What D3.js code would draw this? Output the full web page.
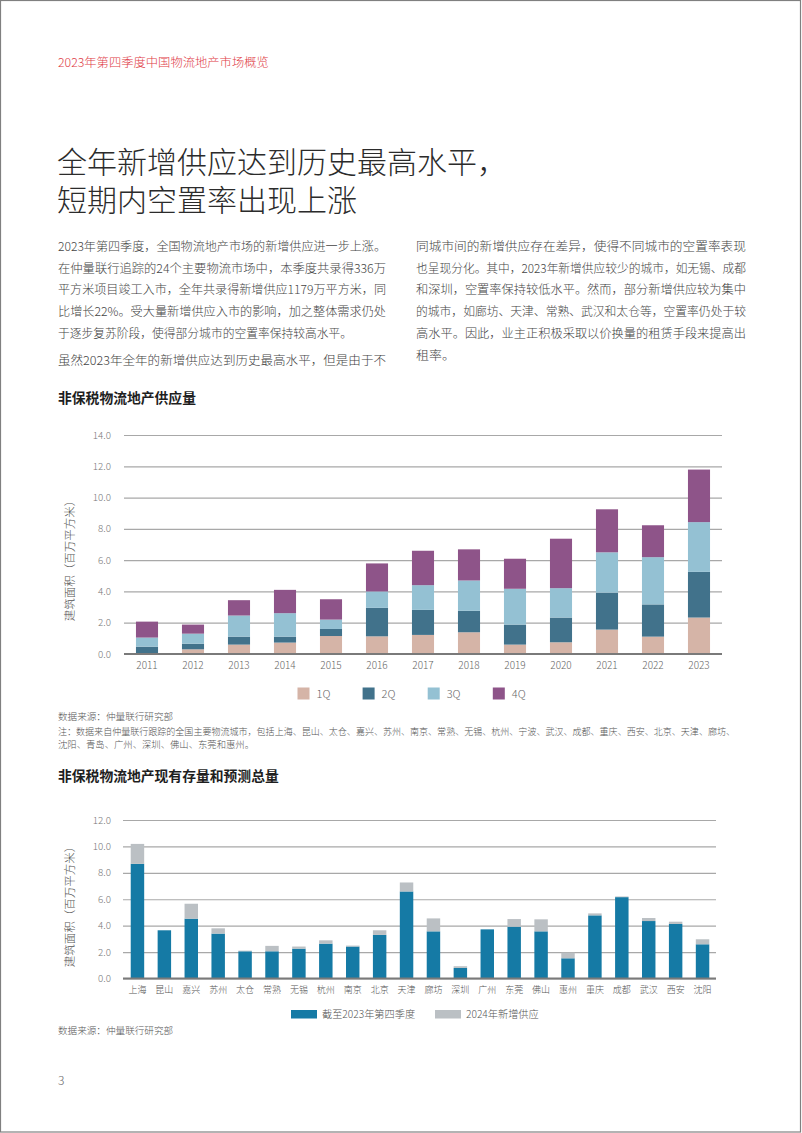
<!DOCTYPE html>
<html><head><meta charset="utf-8">
<script src="https://cdn.jsdelivr.net/npm/d3@7"></script>
<style>
html,body{margin:0;padding:0;background:#fff;}
svg{display:block;font-family:"Noto Sans CJK SC","Noto Sans",sans-serif;}
</style></head>
<body><svg id="c" width="802" height="1133"></svg>
<script>
// ---------- data ----------
const years = ["2011","2012","2013","2014","2015","2016","2017","2018","2019","2020","2021","2022","2023"];
const q1 = [0.00,0.30,0.60,0.73,1.15,1.13,1.22,1.39,0.60,0.75,1.56,1.11,2.33];
const q2 = [0.47,0.36,0.51,0.38,0.45,1.82,1.60,1.37,1.28,1.58,2.36,2.06,2.92];
const q3 = [0.58,0.64,1.35,1.50,0.60,1.05,1.58,1.94,2.29,1.88,2.58,3.02,3.18];
const q4 = [1.02,0.58,0.98,1.49,1.30,1.79,2.20,1.99,1.92,3.16,2.75,2.04,3.36];
const quarterNames = ["1Q","2Q","3Q","4Q"];
const yTicks1 = [0,2,4,6,8,10,12,14];

const cities = ["上海","昆山","嘉兴","苏州","太仓","常熟","无锡","杭州","南京","北京","天津","廊坊","深圳","广州","东莞","佛山","惠州","重庆","成都","武汉","西安","沈阳"];
const stock2023 = [8.68,3.65,4.53,3.40,2.06,2.06,2.26,2.64,2.42,3.30,6.59,3.57,0.80,3.72,3.92,3.57,1.53,4.78,6.16,4.35,4.13,2.59];
const new2024   = [1.51,0.00,1.13,0.40,0.05,0.41,0.16,0.25,0.07,0.35,0.68,0.98,0.13,0.00,0.58,0.91,0.43,0.15,0.05,0.23,0.17,0.38];
const seriesNames2 = ["截至2023年第四季度","2024年新增供应"];
const yTicks2 = [0,2,4,6,8,10,12];

const headerText = "2023年第四季度中国物流地产市场概览";
const titleLines = ["全年新增供应达到历史最高水平，","短期内空置率出现上涨"];
const leftCol = [
  "2023年第四季度，全国物流地产市场的新增供应进一步上涨。",
  "在仲量联行追踪的24个主要物流市场中，本季度共录得336万",
  "平方米项目竣工入市，全年共录得新增供应1179万平方米，同",
  "比增长22%。受大量新增供应入市的影响，加之整体需求仍处",
  "于逐步复苏阶段，使得部分城市的空置率保持较高水平。"
];
const leftCol2 = ["虽然2023年全年的新增供应达到历史最高水平，但是由于不"];
const rightCol = [
  "同城市间的新增供应存在差异，使得不同城市的空置率表现",
  "也呈现分化。其中，2023年新增供应较少的城市，如无锡、成都",
  "和深圳，空置率保持较低水平。然而，部分新增供应较为集中",
  "的城市，如廊坊、天津、常熟、武汉和太仓等，空置率仍处于较",
  "高水平。因此，业主正积极采取以价换量的租赁手段来提高出",
  "租率。"
];
const chart1Title = "非保税物流地产供应量";
const chart2Title = "非保税物流地产现有存量和预测总量";
const sourceText = "数据来源：仲量联行研究部";
const noteLines = [
  "注：数据来自仲量联行跟踪的全国主要物流城市，包括上海、昆山、太仓、嘉兴、苏州、南京、常熟、无锡、杭州、宁波、武汉、成都、重庆、西安、北京、天津、廊坊、",
  "沈阳、青岛、广州、深圳、佛山、东莞和惠州。"
];
const yTitle = "建筑面积（百万平方米）";

// ---------- styles ----------
const qColors = ["#d5b4a7","#41728b","#94c1d3","#8e5489"];
const c2Colors = ["#157aa5","#bbc0c4"];
const gridColor = "#a8a8a8";
const tickColor = "#777";

const svg = d3.select("#c");

// page border
svg.append("rect").attr("x",0.5).attr("y",0.5).attr("width",800).attr("height",1131.5)
  .attr("fill","none").attr("stroke","#808080").attr("stroke-width",1.2);

// header
svg.append("text").attr("x",58).attr("y",66.5).attr("fill","#e03c46")
  .attr("font-size",12.3).attr("font-weight",300).text(headerText);

// title
titleLines.forEach((t,i)=>{
  svg.append("text").attr("x",57).attr("y",173+i*37.5).attr("fill","#2b2b2b")
    .attr("font-family","'Liberation Sans','Noto Sans CJK SC',sans-serif")
    .attr("font-size",30).attr("font-weight",300).text(t);
});

// body text
function para(lines, x, y0, w, justifyLast, lastW){
  lines.forEach((t,i)=>{
    const el = svg.append("text").attr("x",x).attr("y",y0+i*21.7).attr("fill","#444")
      .attr("font-size",12.4).attr("font-weight",300).text(t);
    const isLast = i===lines.length-1;
    if(!isLast || justifyLast){ el.attr("textLength",w).attr("lengthAdjust","spacingAndGlyphs"); }
    else if(lastW){ el.attr("textLength",lastW).attr("lengthAdjust","spacingAndGlyphs"); }
  });
}
para(leftCol, 58, 251, 328, false, 294);
para(leftCol2, 58, 364.5, 328, true);
para(rightCol, 416, 251, 330, false, 39);

// ---------- chart 1 ----------
svg.append("text").attr("x",58).attr("y",403).attr("fill","#1e1e1e")
  .attr("font-size",13.8).attr("font-weight",700).text(chart1Title);

const x1 = d3.scaleBand().domain(years).range([124,722]).paddingInner(0.52).paddingOuter(0.26);
const y1 = d3.scaleLinear().domain([0,14]).range([654,435]);

const g1 = svg.append("g").attr("transform","translate(124,0)")
  .call(d3.axisLeft(y1).tickValues(yTicks1).tickSize(-598).tickPadding(13).tickFormat(d3.format(".1f")));
g1.select(".domain").remove();
g1.selectAll(".tick line").attr("stroke",gridColor).attr("stroke-width",1.2);
g1.selectAll(".tick text").attr("fill",tickColor).attr("font-size",9.8).attr("font-weight",300)
  .attr("font-family","'Noto Sans CJK SC',sans-serif");

const rows1 = years.map((yr,i)=>({year:yr,"1Q":q1[i],"2Q":q2[i],"3Q":q3[i],"4Q":q4[i]}));
const stack1 = d3.stack().keys(quarterNames)(rows1);
svg.append("g").selectAll("g").data(stack1).join("g").attr("fill",(d,i)=>qColors[i])
  .selectAll("rect").data(d=>d).join("rect")
  .attr("x",d=>x1(d.data.year)).attr("width",x1.bandwidth())
  .attr("y",d=>y1(d[1])).attr("height",d=>y1(d[0])-y1(d[1]));

// baseline
svg.append("line").attr("x1",124).attr("x2",722).attr("y1",y1(0)).attr("y2",y1(0))
  .attr("stroke","#7a7a7a").attr("stroke-width",2);

const gx1 = svg.append("g").attr("transform",`translate(0,${y1(0)})`)
  .call(d3.axisBottom(x1).tickSize(0).tickPadding(8));
gx1.select(".domain").remove();
gx1.selectAll("text").attr("fill","#666").attr("font-size",10).attr("font-weight",300)
  .attr("font-family","'Noto Sans CJK SC',sans-serif");

svg.append("text").attr("transform","translate(74,558) rotate(-90)").attr("text-anchor","middle")
  .attr("fill","#555").attr("font-size",11.5).attr("font-weight",300).text(yTitle);

// legend 1
const lg1 = svg.append("g");
quarterNames.forEach((q,i)=>{
  const lx = 297.5 + i*65.1;
  lg1.append("rect").attr("x",lx).attr("y",687.5).attr("width",12).attr("height",12).attr("fill",qColors[i]);
  lg1.append("text").attr("x",lx+19).attr("y",697.5).attr("fill","#666").attr("font-size",11)
    .attr("font-weight",300).text(q);
});

svg.append("text").attr("x",58).attr("y",719.5).attr("fill","#555").attr("font-size",9.6)
  .attr("font-weight",300).text(sourceText);
noteLines.forEach((t,i)=>{
  const el = svg.append("text").attr("x",58).attr("y",735+i*12.5).attr("fill","#555")
    .attr("font-size",9.6).attr("font-weight",300).text(t);
  if(i===0) el.attr("textLength",677).attr("lengthAdjust","spacingAndGlyphs");
  else el.attr("textLength",196).attr("lengthAdjust","spacingAndGlyphs");
});

// ---------- chart 2 ----------
svg.append("text").attr("x",58).attr("y",781).attr("fill","#1e1e1e")
  .attr("font-size",13.8).attr("font-weight",700).text(chart2Title);

const x2 = d3.scaleBand().domain(cities).range([124,716]).paddingInner(0.5).paddingOuter(0.25);
const y2 = d3.scaleLinear().domain([0,12]).range([978.5,820]);

const g2 = svg.append("g").attr("transform","translate(123,0)")
  .call(d3.axisLeft(y2).tickValues(yTicks2).tickSize(-593).tickPadding(12).tickFormat(d3.format(".1f")));
g2.select(".domain").remove();
g2.selectAll(".tick line").attr("stroke",gridColor).attr("stroke-width",1.2);
g2.selectAll(".tick text").attr("fill",tickColor).attr("font-size",9.8).attr("font-weight",300)
  .attr("font-family","'Noto Sans CJK SC',sans-serif");

const rows2 = cities.map((c,i)=>({city:c,a:stock2023[i],b:new2024[i]}));
const stack2 = d3.stack().keys(["a","b"])(rows2);
svg.append("g").selectAll("g").data(stack2).join("g").attr("fill",(d,i)=>c2Colors[i])
  .selectAll("rect").data(d=>d).join("rect")
  .attr("x",d=>x2(d.data.city)).attr("width",x2.bandwidth())
  .attr("y",d=>y2(d[1])).attr("height",d=>y2(d[0])-y2(d[1]));

svg.append("line").attr("x1",123).attr("x2",716).attr("y1",y2(0)).attr("y2",y2(0))
  .attr("stroke","#7a7a7a").attr("stroke-width",2);

const gx2 = svg.append("g").attr("transform",`translate(0,${y2(0)})`)
  .call(d3.axisBottom(x2).tickSize(0).tickPadding(8));
gx2.select(".domain").remove();
gx2.selectAll("text").attr("fill","#555").attr("font-size",9).attr("font-weight",300)
  .attr("font-family","'Noto Sans CJK SC',sans-serif");

svg.append("text").attr("transform","translate(74,904) rotate(-90)").attr("text-anchor","middle")
  .attr("fill","#555").attr("font-size",11.5).attr("font-weight",300).text(yTitle);

// legend 2
const lg2x = [291, 435];
seriesNames2.forEach((s,i)=>{
  svg.append("rect").attr("x",lg2x[i]).attr("y",1010).attr("width",26).attr("height",8.5).attr("fill",c2Colors[i]);
  svg.append("text").attr("x",lg2x[i]+31).attr("y",1018).attr("fill","#555").attr("font-size",10.2)
    .attr("font-weight",300).text(s);
});

svg.append("text").attr("x",58).attr("y",1033.5).attr("fill","#555").attr("font-size",9.6)
  .attr("font-weight",300).text(sourceText);

// page number
svg.append("text").attr("x",58).attr("y",1084.5).attr("fill","#666").attr("font-size",12)
  .attr("font-weight",300).text("3");
</script></body></html>
